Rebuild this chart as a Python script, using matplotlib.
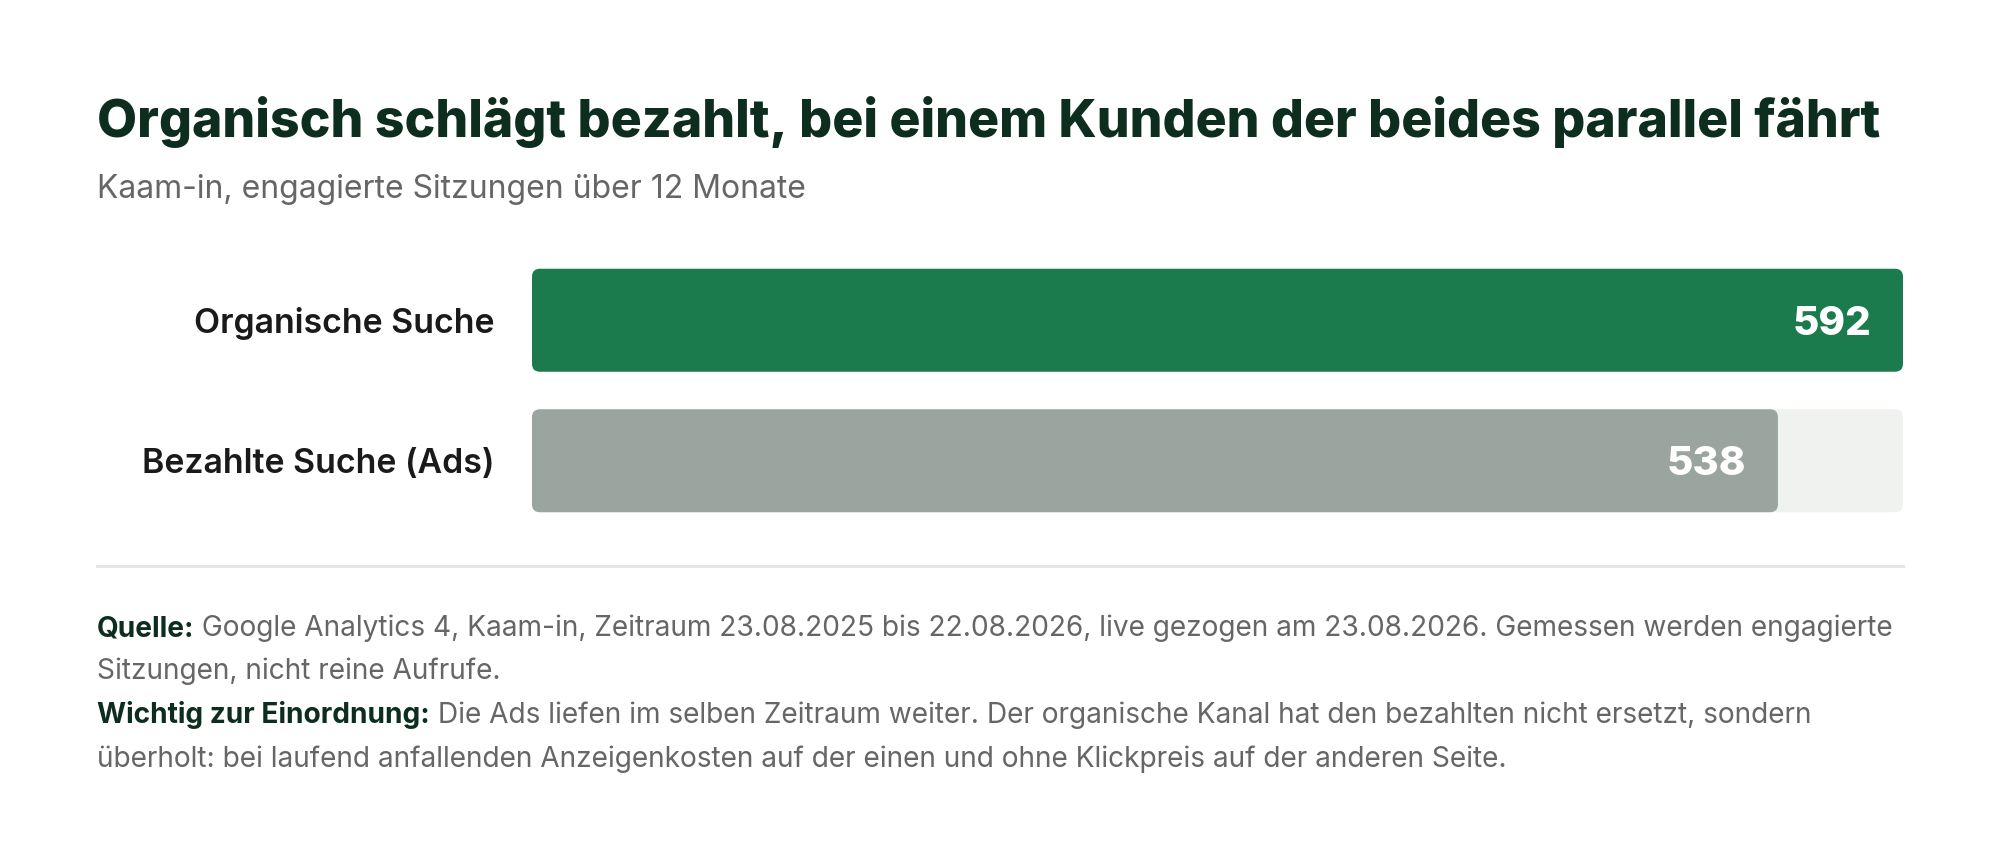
import matplotlib
matplotlib.use("Agg")
import matplotlib.pyplot as plt
from matplotlib.patches import FancyBboxPatch
from matplotlib import font_manager as fm

categories = ["Organische Suche", "Bezahlte Suche (Ads)"]
values = [592, 538]
bar_colors = ["#1b7b4c", "#9ba59f"]

title = "Organisch schlägt bezahlt, bei einem Kunden der beides parallel fährt"
subtitle = "Kaam-in, engagierte Sitzungen über 12 Monate"
notes = [
    [("Quelle:", True), ("Google Analytics 4, Kaam-in, Zeitraum 23.08.2025 bis 22.08.2026, live gezogen am 23.08.2026. Gemessen werden engagierte", False)],
    [("Sitzungen, nicht reine Aufrufe.", False)],
    [("Wichtig zur Einordnung:", True), ("Die Ads liefen im selben Zeitraum weiter. Der organische Kanal hat den bezahlten nicht ersetzt, sondern", False)],
    [("überholt: bei laufend anfallenden Anzeigenkosten auf der einen und ohne Klickpreis auf der anderen Seite.", False)],
]

W, H, DPI = 2000, 850, 100
plt.rcParams["font.family"] = ["Inter", "DejaVu Sans"]


def inter(fname, fallback_weight):
    for f in fm.fontManager.ttflist:
        if f.fname.split("/")[-1] == fname:
            return fm.FontProperties(fname=f.fname)
    return fm.FontProperties(family="Inter", weight=fallback_weight)


F_XB = inter("Inter-ExtraBold.otf", "heavy")
F_B = inter("Inter-Bold.otf", "bold")
F_SB = inter("Inter-SemiBold.otf", "semibold")
F_R = inter("Inter-Regular.otf", "normal")

fig = plt.figure(figsize=(W / DPI, H / DPI), dpi=DPI)
fig.patch.set_facecolor("white")
renderer = fig.canvas.get_renderer()


def fx(px):
    return px / W


def fy(py):
    return 1 - py / H


def fit(t, target_px):
    t.set_fontsize(t.get_fontsize() * target_px / t.get_window_extent(renderer).width)


DARK = "#0d2e1f"
GREY = "#666666"

t_title = fig.text(fx(97), fy(137), title, fontproperties=F_XB, fontsize=36, color=DARK, va="baseline", ha="left")
fit(t_title, 1782)
t_sub = fig.text(fx(97), fy(198), subtitle, fontproperties=F_R, fontsize=23, color=GREY, va="baseline", ha="left")
fit(t_sub, 709)

# bar axes
left, right = 532, 1903
top, bottom = 250, 531
ax = fig.add_axes([fx(left), fy(bottom), fx(right - left), (bottom - top) / H])
ax.set_xlim(0, max(values))
ax.set_ylim(len(values) - 0.5, -0.5)
ax.axis("off")

bar_h = 0.733
px_per_x = (right - left) / max(values)
px_per_y = (bottom - top) / len(values)
radius_px = 8
mut_aspect = px_per_x / px_per_y
track_max = max(values)
style = f"round,pad=0,rounding_size={radius_px / px_per_x}"

for i, (v, c) in enumerate(zip(values, bar_colors)):
    ax.add_patch(FancyBboxPatch((0, i - bar_h / 2), track_max, bar_h, boxstyle=style,
                                mutation_aspect=mut_aspect, fc="#f0f2f0", ec="none", zorder=1))
    ax.add_patch(FancyBboxPatch((0, i - bar_h / 2), v, bar_h, boxstyle=style,
                                mutation_aspect=mut_aspect, fc=c, ec="none", zorder=2))
    ax.annotate(str(v), xy=(v, i), xytext=(-32 * 72 / DPI, 0), textcoords="offset points",
                ha="right", va="center_baseline", fontproperties=F_XB, fontsize=29, color="white", zorder=3)
    ax.annotate(categories[i], xy=(0, i), xytext=(-37 * 72 / DPI, 0), textcoords="offset points",
                ha="right", va="center_baseline", fontproperties=F_SB, fontsize=24.4, color="#1a1a1a",
                annotation_clip=False)

# separator
fig.add_artist(plt.Line2D([fx(97), fx(1903)], [fy(566), fy(566)], color="#e3e6e4", lw=2.2))

# notes
baselines = [636, 679, 723, 767]
fs_note = 20.2
for line, yb in zip(notes, baselines):
    x_px = 97
    for txt, bold in line:
        s = txt if x_px == 97 else " " + txt
        t = fig.text(fx(x_px), fy(yb), s, fontproperties=F_B if bold else F_R, fontsize=fs_note,
                     color=DARK if bold else GREY, va="baseline", ha="left")
        x_px = t.get_window_extent(renderer).x1

fig.savefig("out.png", dpi=DPI, facecolor="white")
